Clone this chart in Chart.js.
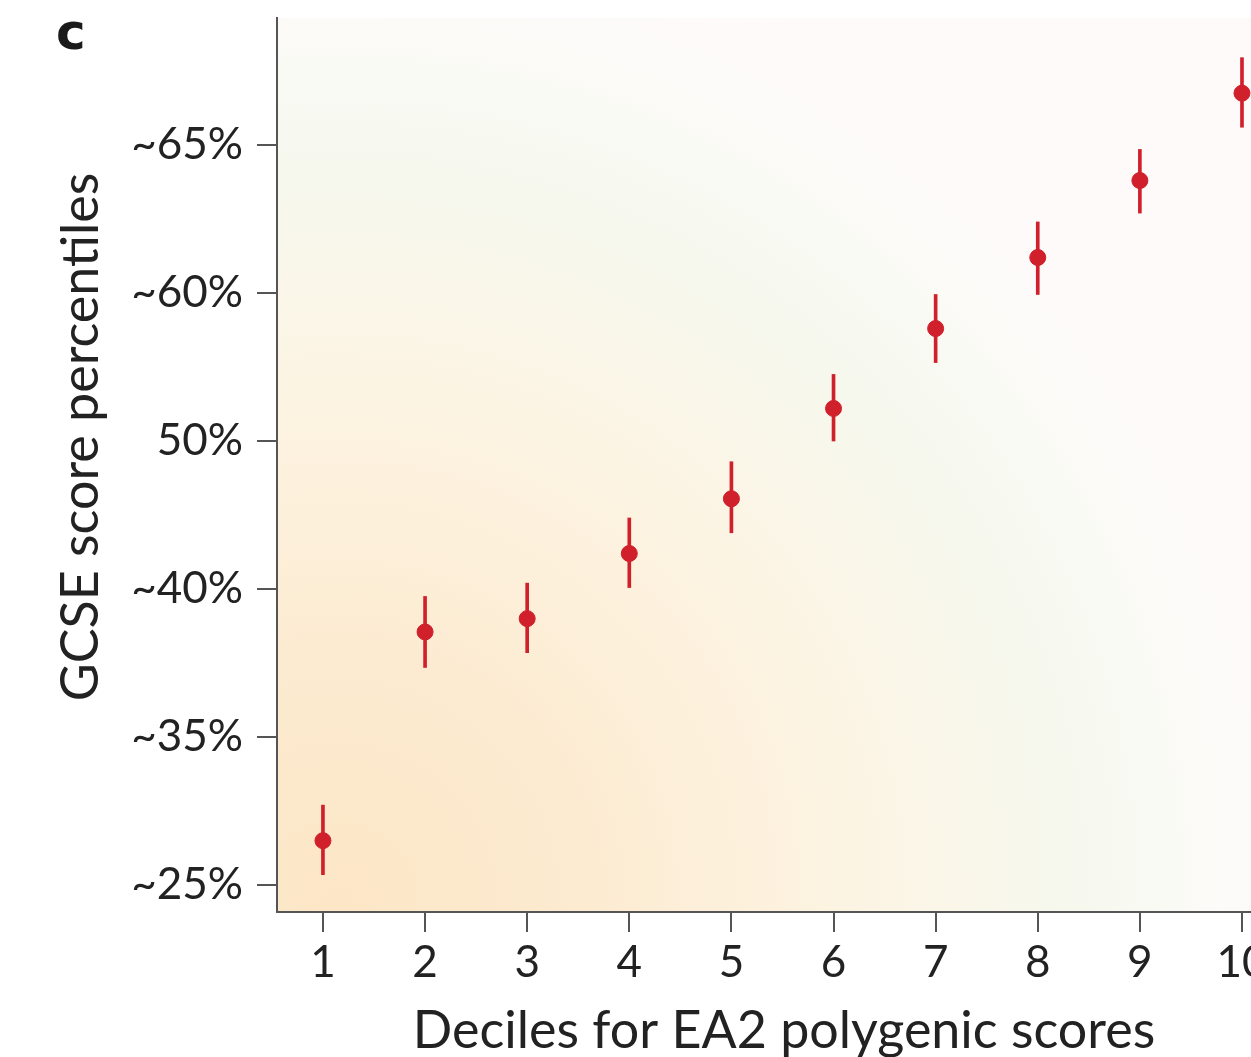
<!DOCTYPE html>
<html>
<head>
<meta charset="utf-8">
<script src="https://cdn.jsdelivr.net/npm/chart.js@4"></script>
<style>
  html, body { margin: 0; padding: 0; background: #fff; overflow: hidden; }
  #wrap { width: 1251px; height: 1057px; overflow: hidden; position: relative; }
  #box { width: 1300px; height: 1057px; }
</style>
</head>
<body>
<div id="wrap"><div id="box"><canvas id="graficoGcse"></canvas></div></div>
<script>
// deciles of the polygenic score
let deciles = [1, 2, 3, 4, 5, 6, 7, 8, 9, 10]
// y positions are in tick steps: 0 = ~25%, 1 = ~35%, ... 5 = ~65%
let media = [0.30, 1.71, 1.80, 2.24, 2.61, 3.22, 3.76, 4.24, 4.76, 5.35]
let erroBaixo = [0.07, 1.47, 1.57, 2.01, 2.38, 3.00, 3.53, 3.99, 4.54, 5.12]
let erroAlto = [0.54, 1.95, 2.04, 2.48, 2.86, 3.45, 3.99, 4.48, 4.97, 5.59]
let rotulosY = ['~25%', '~35%', '~40%', '50%', '~60%', '~65%']

const vermelho = '#d0202b'
const cinza = '#555555'

const fundo = {
  id: 'fundo',
  beforeDraw(chart) {
    const { ctx, chartArea: a } = chart
    const cx = a.left + 60, cy = a.bottom - 10
    const g = ctx.createRadialGradient(cx, cy, 0, cx, cy, 1000)
    g.addColorStop(0, '#fce6c6')
    g.addColorStop(0.25, '#fcebd1')
    g.addColorStop(0.45, '#fdf2df')
    g.addColorStop(0.6, '#faf6e8')
    g.addColorStop(0.74, '#f6f8ee')
    g.addColorStop(0.88, '#fcfbf8')
    g.addColorStop(1, '#fefafa')
    ctx.save()
    ctx.fillStyle = g
    ctx.fillRect(a.left, a.top, a.right - a.left, a.bottom - a.top)
    ctx.restore()
  }
}

// panel letter and y title
const textos = {
  id: 'textos',
  afterDraw(chart) {
    const ctx = chart.ctx
    ctx.save()
    ctx.fillStyle = '#1a1a1a'
    ctx.font = 'bold 50px "DejaVu Sans"'
    ctx.textBaseline = 'alphabetic'
    ctx.fillText('c', 56, 49)
    ctx.fillStyle = '#222'
    ctx.font = '52px Lato'
    ctx.translate(81, 437)
    ctx.rotate(-Math.PI / 2)
    ctx.textAlign = 'center'
    ctx.textBaseline = 'middle'
    ctx.fillText('GCSE score percentiles', 0, 0)
    ctx.restore()
  }
}

const ctx = document.getElementById('graficoGcse')

new Chart(ctx, {
  data: {
    datasets: [{
      type: 'scatter',
      data: deciles.map((d, i) => ({ x: d, y: media[i] })),
      backgroundColor: vermelho,
      borderColor: vermelho,
      pointRadius: 8,
      pointHoverRadius: 8,
      order: 0
    }, {
      type: 'bar',
      data: deciles.map((d, i) => ({ x: d, y: [erroBaixo[i], erroAlto[i]] })),
      backgroundColor: vermelho,
      barThickness: 3,
      order: 1
    }]
  },
  options: {
    responsive: true,
    maintainAspectRatio: false,
    animation: false,
    layout: { padding: { top: 18, right: 8, left: 0, bottom: 0 } },
    plugins: { legend: { display: false }, tooltip: { enabled: false } },
    scales: {
      x: {
        type: 'linear',
        min: 0.55,
        max: 10.48,
        offset: false,
        afterBuildTicks: (s) => { s.ticks = deciles.map(v => ({ value: v })) },
        afterFit: (s) => { s.height = 145; s.paddingLeft = 0; s.paddingRight = 0 },
        border: { display: true, color: cinza, width: 2 },
        grid: { offset: false, drawOnChartArea: false, drawTicks: true, tickLength: 20, color: cinza, lineWidth: 2 },
        ticks: { color: '#222', padding: 4, font: { family: 'Lato', size: 44 } },
        title: {
          display: true,
          text: 'Deciles for EA2 polygenic scores',
          color: '#222',
          font: { family: 'Lato', size: 52, lineHeight: 1 },
          padding: { top: 0, bottom: 0 }
        }
      },
      y: {
        type: 'linear',
        min: -0.182,
        max: 5.858,
        afterBuildTicks: (s) => { s.ticks = rotulosY.map((r, i) => ({ value: i })) },
        afterFit: (s) => { s.width = 277; s.paddingTop = 0; s.paddingBottom = 0 },
        border: { display: true, color: cinza, width: 2 },
        grid: { drawOnChartArea: false, drawTicks: true, tickLength: 20, color: cinza, lineWidth: 2 },
        ticks: {
          color: '#222',
          padding: 14,
          font: { family: 'Lato', size: 44 },
          callback: (v) => rotulosY[v]
        }
      }
    }
  },
  plugins: [fundo, textos]
})
</script>
</body>
</html>
